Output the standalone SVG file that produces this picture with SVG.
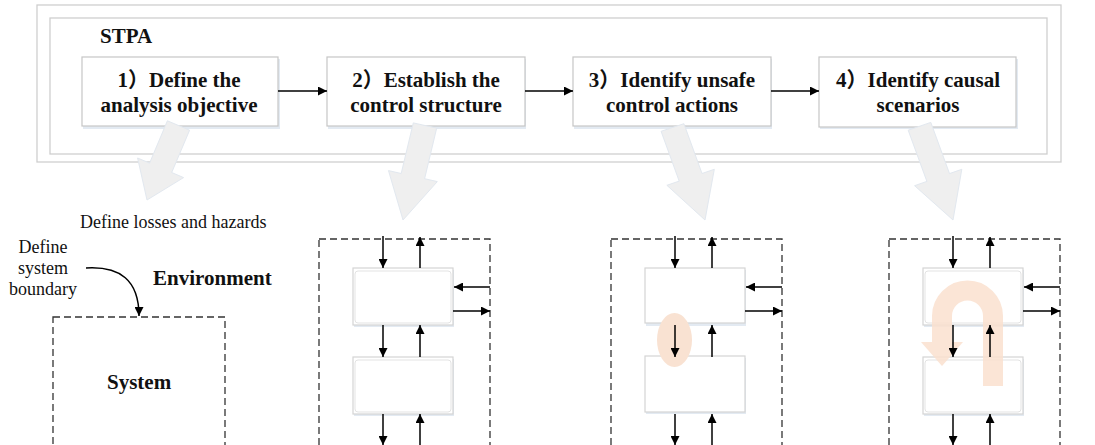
<svg xmlns="http://www.w3.org/2000/svg" width="1095" height="445" viewBox="0 0 1095 445">
  <style>
    .frame { fill: none; stroke: #cfcfcf; stroke-width: 1.3; }
    .step { fill: #ffffff; stroke: #c6c6c6; stroke-width: 1.2; }
    .shadow { fill: #e3eaf2; }
    .stepText { font-family: "Liberation Serif", "Noto Sans CJK SC", serif; font-weight: bold; font-size: 21px; fill: #111; text-anchor: middle; }
    .bold { font-family: "Liberation Serif", serif; font-weight: bold; font-size: 21px; fill: #111; }
    .plain { font-family: "Liberation Serif", serif; font-size: 18px; fill: #111; }
    .link { fill: none; stroke: #000; stroke-width: 1.5; marker-end: url(#head); }
    .dash { fill: none; stroke: #333; stroke-width: 1.3; stroke-dasharray: 7 4; }
    .block { fill: #efefef; stroke: #e2e8ef; stroke-width: 1; }
    .ctl { fill: #ffffff; stroke: #d4d4d4; stroke-width: 1.2; }
    .ctlIn { fill: none; stroke: #e3e3e3; stroke-width: 1; }
  </style>
  <defs>
    <marker id="head" viewBox="0 0 10 10" refX="10" refY="5" markerUnits="userSpaceOnUse" markerWidth="10" markerHeight="9" orient="auto">
      <path d="M0,0 L10,5 L0,10 z" fill="#000"/>
    </marker>
    <!-- dashed boundary with its control/feedback links -->
    <g id="ctlLinks">
      <rect class="dash" x="0" y="0" width="171" height="240"/>
      <line class="link" x1="64" y1="-3" x2="64" y2="29"/>
      <line class="link" x1="101" y1="29" x2="101" y2="-2"/>
      <line class="link" x1="171" y1="48" x2="135" y2="48"/>
      <line class="link" x1="134" y1="72" x2="171" y2="72"/>
      <line class="link" x1="64" y1="86" x2="64" y2="118"/>
      <line class="link" x1="101" y1="118" x2="101" y2="86"/>
      <line class="link" x1="64" y1="175" x2="64" y2="206"/>
      <line class="link" x1="101" y1="210" x2="101" y2="175"/>
    </g>
    <g id="ctlBoxes">
      <rect class="shadow" x="35" y="31" width="100" height="57"/>
      <rect class="ctl" x="34" y="29" width="100" height="57"/>
      <rect class="ctlIn" x="36" y="32" width="96" height="52" rx="3"/>
      <rect class="shadow" x="35" y="120" width="100" height="57"/>
      <rect class="ctl" x="34" y="118" width="100" height="57"/>
      <rect class="ctlIn" x="36" y="121" width="96" height="52" rx="3"/>
    </g>
  </defs>

  <rect width="1095" height="445" fill="#ffffff"/>

  <!-- STPA frame -->
  <g id="stpa-frame">
    <rect class="frame" x="37" y="5" width="1024" height="157"/>
    <rect class="frame" x="50" y="18" width="997" height="136"/>
    <text class="bold" x="100" y="43">STPA</text>
  </g>

  <!-- process steps -->
  <g id="step1">
    <rect class="shadow" x="83" y="59" width="197" height="70"/>
    <rect class="step" x="82" y="57" width="196" height="69"/>
    <text class="stepText" x="179" y="87">1）Define the</text>
    <text class="stepText" x="179" y="112">analysis objective</text>
  </g>
  <g id="step2">
    <rect class="shadow" x="328" y="59" width="198" height="70"/>
    <rect class="step" x="327" y="57" width="198" height="69"/>
    <text class="stepText" x="426" y="87">2）Establish the</text>
    <text class="stepText" x="426" y="112">control structure</text>
  </g>
  <g id="step3">
    <rect class="shadow" x="574" y="59" width="198" height="70"/>
    <rect class="step" x="573" y="57" width="198" height="69"/>
    <text class="stepText" x="672" y="87">3）Identify unsafe</text>
    <text class="stepText" x="672" y="112">control actions</text>
  </g>
  <g id="step4">
    <rect class="shadow" x="820" y="59" width="198" height="70"/>
    <rect class="step" x="819" y="57" width="197" height="70"/>
    <text class="stepText" x="918" y="87">4）Identify causal</text>
    <text class="stepText" x="918" y="112">scenarios</text>
  </g>

  <g id="connectors">
    <line class="link" x1="278" y1="91" x2="327" y2="91"/>
    <line class="link" x1="525" y1="91" x2="573" y2="91"/>
    <line class="link" x1="771" y1="91" x2="819" y2="91"/>
    <path class="link" d="M86,268 C120,266 139,280 139,316"/>
  </g>

  <!-- wide grey arrows leading from each step to its detail -->
  <g id="block-arrows">
    <polygon class="block" points="167.4,120.8 189.6,130.2 171.7,172.5 183.6,177.6 147,200 137.6,158 149.6,163.1"/>
    <polygon class="block" points="413.3,122.9 436.7,128.1 424.6,178.7 437.3,181.6 403,220 388.5,170.6 401.2,173.5"/>
    <polygon class="block" points="683.9,123.7 702,173.5 714.3,169.3 705,220 666.9,185.3 679.2,181.1 661.1,131.3"/>
    <polygon class="block" points="930.8,122.4 949.5,173.6 961.8,169.3 953,220 914.6,185.7 926.9,181.4 908.2,130.2"/>
  </g>

  <!-- step 1 detail: losses, hazards, system boundary -->
  <g id="system-view">
    <text class="plain" x="80" y="228">Define losses and hazards</text>
    <text class="plain" x="43" y="253" text-anchor="middle">Define</text>
    <text class="plain" x="43" y="274" text-anchor="middle">system</text>
    <text class="plain" x="43" y="295" text-anchor="middle">boundary</text>
    <text class="bold" x="153" y="285">Environment</text>
    <rect class="dash" x="53" y="317" width="172" height="150"/>
    <text class="bold" x="107" y="389">System</text>
  </g>

  <!-- step 2 detail: control structure -->
  <g id="control-structure" transform="translate(319,239)">
    <use href="#ctlBoxes"/>
    <use href="#ctlLinks"/>
  </g>

  <!-- step 3 detail: unsafe control action highlighted -->
  <g id="unsafe-actions" transform="translate(611,239)">
    <rect class="shadow" x="35" y="31" width="100" height="56"/>
    <rect class="ctl" x="34" y="29" width="100" height="55"/>
    <rect class="shadow" x="35" y="119" width="100" height="56"/>
    <rect class="ctl" x="34" y="117" width="100" height="56"/>
    <ellipse cx="63.5" cy="101" rx="17.5" ry="27" fill="#f9e2d2"/>
    <use href="#ctlLinks"/>
  </g>

  <!-- step 4 detail: causal loop -->
  <g id="causal-scenarios" transform="translate(889,239)">
    <use href="#ctlBoxes"/>
    <g opacity="0.85">
      <path d="M104,147 L104,77 A25.5,25.5 0 0 0 53,77 L53,103" fill="none" stroke="#fbe1cf" stroke-width="20"/>
      <polygon points="32,103 74,103 53,127" fill="#fbe1cf"/>
    </g>
    <use href="#ctlLinks"/>
  </g>
</svg>
